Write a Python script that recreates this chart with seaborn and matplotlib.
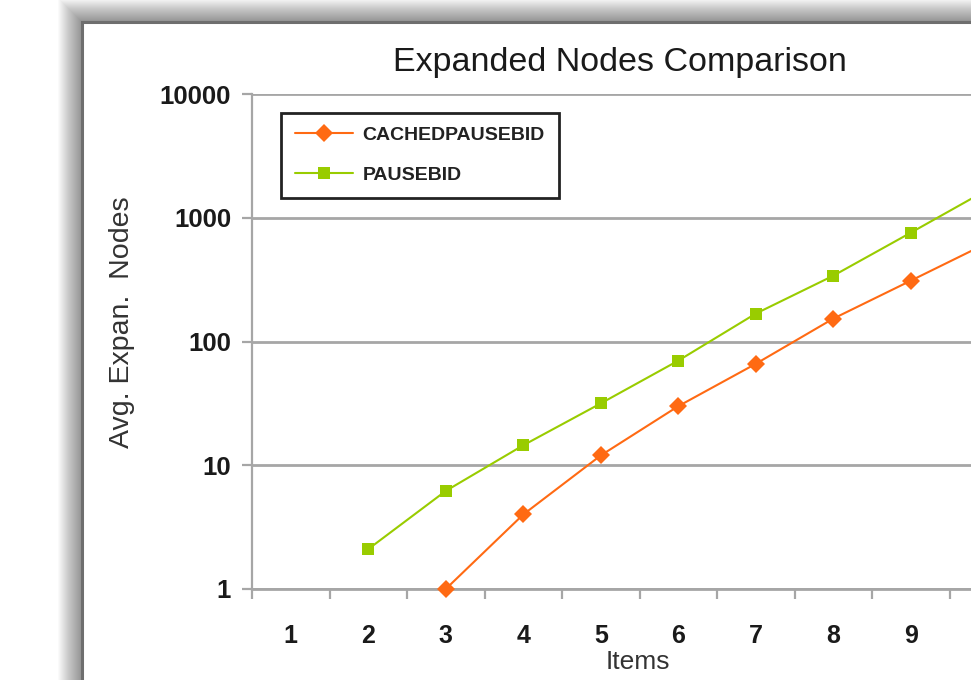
import matplotlib
matplotlib.use("Agg")
import matplotlib.pyplot as plt
from matplotlib.patches import Rectangle
from matplotlib.lines import Line2D
from matplotlib.ticker import FixedLocator, NullLocator, FixedFormatter
import seaborn as sns
import pandas as pd

# values (log scale)
cached_items = [3, 4, 5, 6, 7, 8, 9, 10]
cached_nodes = [1, 4, 12, 30, 66, 153, 310, 630]
pause_items = [2, 3, 4, 5, 6, 7, 8, 9, 10]
pause_nodes = [2.1, 6.2, 14.5, 31.6, 70, 168, 340, 757, 1700]
item_labels = ["1", "2", "3", "4", "5", "6", "7", "8", "9"]
y_ticks = [1, 10, 100, 1000, 10000]

series_names = ["CACHEDPAUSEBID", "PAUSEBID"]
colors = {"CACHEDPAUSEBID": "#FF6A13", "PAUSEBID": "#99CC00"}
markers = {"CACHEDPAUSEBID": "D", "PAUSEBID": "s"}

df = pd.concat([
    pd.DataFrame({"Items": cached_items, "Nodes": cached_nodes, "series": "CACHEDPAUSEBID"}),
    pd.DataFrame({"Items": pause_items, "Nodes": pause_nodes, "series": "PAUSEBID"}),
])

sns.set_theme(style="white")
plt.rcParams["font.family"] = ["Liberation Sans", "DejaVu Sans"]

W, H = 971, 680
fig = plt.figure(figsize=(W / 100, H / 100), dpi=100)
fig.patch.set_facecolor("white")

# soft shadow behind the chart area
for i in range(24):
    fig.patches.append(Rectangle(((82 - 24 + i) / W, -0.1), 2, (1 - (i - 2) / H) + 0.1,
                                 transform=fig.transFigure, facecolor="black",
                                 edgecolor="none", alpha=0.018, zorder=-10))
# chart area
fig.patches.append(Rectangle((82 / W, -0.1), 2, 1 - 22 / H + 0.1, transform=fig.transFigure,
                             facecolor="white", edgecolor="#6E6E6E", linewidth=2.2, zorder=-5))

ax = fig.add_axes([252 / W, 1 - 589 / H, 1 - 252 / W, (589 - 94) / H])
ax.set_facecolor("none")

sns.lineplot(data=df, x="Items", y="Nodes", hue="series", style="series",
             palette=colors, markers=markers, dashes=False, markersize=9,
             markeredgewidth=0, linewidth=1.5, legend=False, ax=ax)
for ln in ax.lines:
    ln.set_clip_on(False)
    ln.set_zorder(3)

ax.set_yscale("log")
ax.set_ylim(1, 10000)
ax.set_xlim(0.5, 0.5 + (W - 252) / 77.5)

ax.yaxis.set_major_locator(FixedLocator(y_ticks))
ax.yaxis.set_major_formatter(FixedFormatter([str(v) for v in y_ticks]))
ax.yaxis.set_minor_locator(NullLocator())
ax.xaxis.set_major_locator(FixedLocator(range(1, len(item_labels) + 1)))
ax.xaxis.set_major_formatter(FixedFormatter(item_labels))
ax.xaxis.set_minor_locator(FixedLocator([k + 0.5 for k in range(0, 12)]))

ax.grid(axis="y", color="#A6A6A6", linewidth=2)
ax.set_axisbelow(True)
for side in ["top", "right"]:
    ax.spines[side].set_visible(False)
ax.spines["left"].set_color("#A6A6A6")
ax.spines["left"].set_linewidth(1.6)
ax.spines["bottom"].set_color("#A6A6A6")
ax.spines["bottom"].set_linewidth(2)

ax.tick_params(axis="y", which="major", direction="out", length=7, width=1.6,
               color="#A6A6A6", pad=8, labelsize=18.5, left=True)
ax.tick_params(axis="x", which="major", length=0, pad=25, labelsize=18)
ax.tick_params(axis="x", which="minor", direction="out", length=7, width=1.6,
               color="#A6A6A6", bottom=True)
for lab in ax.get_xticklabels() + ax.get_yticklabels():
    lab.set_fontweight("bold")
    lab.set_color("#1A1A1A")

ax.set_xlabel("")
ax.set_ylabel("")
fig.text(638 / W, 1 - 662 / H, "Items", ha="center", va="center", fontsize=19, color="#333333")
fig.text(122 / W, 1 - 322 / H, "Avg. Expan.  Nodes", ha="center", va="center",
         rotation=90, fontsize=20.5, color="#333333")
fig.text(620 / W, 1 - 62 / H, "Expanded Nodes Comparison", ha="center", va="center",
         fontsize=24.5, color="#1A1A1A")

handles = [Line2D([], [], color=colors[n], marker=markers[n], markersize=9,
                  markeredgewidth=0, linewidth=1.5) for n in series_names]
leg = fig.legend(handles, series_names, loc="upper left",
                 bbox_to_anchor=(281 / W, 1 - 113 / H), fancybox=False,
                 framealpha=1, edgecolor="#222222", handlelength=3.0,
                 prop={"weight": "bold", "size": 14}, borderpad=0.7,
                 labelspacing=1.15, handletextpad=0.5, borderaxespad=0)
leg.get_frame().set_linewidth(2)
for t in leg.get_texts():
    t.set_color("#222222")

fig.savefig("out.png", dpi=100)
